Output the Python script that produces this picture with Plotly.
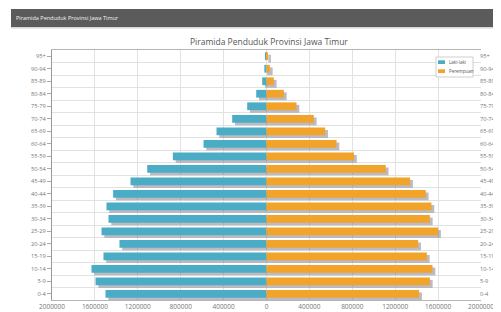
import plotly.graph_objects as go

# ---- data ----
age_groups = ["0-4", "5-9", "10-14", "15-19", "20-24", "25-29", "30-34", "35-39",
              "40-44", "45-49", "50-54", "55-59", "60-64", "65-69", "70-74",
              "75-79", "80-84", "85-89", "90-94", "95+"]
male = [1501000, 1594000, 1632000, 1520000, 1371000, 1538000, 1473000, 1492000,
        1430000, 1268000, 1112000, 873000, 587000, 466000, 320000,
        180000, 96000, 40000, 20000, 8000]
female = [1423000, 1523000, 1548000, 1495000, 1414000, 1600000, 1523000, 1538000,
          1485000, 1339000, 1112000, 816000, 653000, 547000, 441000,
          280000, 162000, 68000, 31000, 15000]
series_names = ["Laki-laki", "Perempuan"]
x_ticks = [-2000000, -1600000, -1200000, -800000, -400000, 0,
           400000, 800000, 1200000, 1600000, 2000000]
title_text = "Piramida Penduduk Provinsi Jawa Timur"

# ---- style ----
OFF = 8                      # page body margin the figure sits inside
W, H = 501 - OFF, 312 - OFF
ML, MR, MT, MB = 52 - OFF, 20, 50 - OFF, 12
PW, PH = W - ML - MR, H - MT - MB
TEAL = "#4BACC6"
ORANGE = "#F2A32A"
SHADOW = "rgba(95,90,110,0.42)"
BAR_W = 0.62
SH_DY = 0.2
SH_DX = 26000
FONT = "Open Sans"


def xp(px):  # page pixel -> paper
    return (px - OFF - ML) / PW


def yp(py):
    return (H - MB - (py - OFF)) / PH


idx = list(range(len(age_groups)))

fig = go.Figure()
# shadows
fig.add_trace(go.Bar(y=[i - SH_DY for i in idx], x=[-v for v in male], base=SH_DX,
                     orientation="h", width=BAR_W, marker=dict(color=SHADOW, line_width=0),
                     showlegend=False, hoverinfo="skip"))
fig.add_trace(go.Bar(y=[i - SH_DY for i in idx], x=female, base=SH_DX,
                     orientation="h", width=BAR_W, marker=dict(color=SHADOW, line_width=0),
                     showlegend=False, hoverinfo="skip"))
# bars
fig.add_trace(go.Bar(y=idx, x=[-v for v in male], orientation="h", width=BAR_W,
                     name=series_names[0], marker=dict(color=TEAL, line_width=0),
                     showlegend=False))
fig.add_trace(go.Bar(y=idx, x=female, orientation="h", width=BAR_W,
                     name=series_names[1], marker=dict(color=ORANGE, line_width=0),
                     showlegend=False))
# invisible trace to carry the right-hand axis
fig.add_trace(go.Scatter(y=idx, x=female, yaxis="y2", mode="markers",
                         marker=dict(opacity=0), showlegend=False, hoverinfo="skip"))

axis_common = dict(
    range=[-0.5, len(age_groups) - 0.5],
    tickmode="array", tickvals=idx, ticktext=age_groups,
    tickfont=dict(family=FONT, size=5.7, color="#777"),
    showgrid=False, zeroline=False, automargin=False,
)

fig.update_layout(
    width=W, height=H,
    margin=dict(l=ML, r=MR, t=MT, b=MB, autoexpand=False),
    paper_bgcolor="white", plot_bgcolor="white",
    barmode="overlay",
    showlegend=False,
    xaxis=dict(range=[x_ticks[0], x_ticks[-1]], tickmode="array", tickvals=x_ticks,
               ticktext=[str(abs(v)) for v in x_ticks],
               tickfont=dict(family=FONT, size=6.5, color="#777"),
               showgrid=True, gridcolor="#e2e2e2", gridwidth=1, zeroline=False,
               showline=True, linecolor="#b5b5b5", mirror=True, ticks="",
               automargin=False),
    yaxis=dict(**axis_common, ticks="outside", ticklen=4, tickcolor="#aaa",
               showline=True, linecolor="#999", linewidth=1,
               minor=dict(tick0=0.5, dtick=1, showgrid=True, gridcolor="#e2e2e2",
                          ticks="")),
    yaxis2=dict(**axis_common, overlaying="y", side="right", ticks="",
                showline=False, ticklabelstandoff=-2),
)

shapes = [
    # header band
    dict(type="rect", xref="paper", yref="paper", x0=xp(11), x1=xp(503),
         y0=yp(27), y1=yp(9), fillcolor="#5b5b5b", line_width=0, layer="above"),
    dict(type="rect", xref="paper", yref="paper", x0=xp(11), x1=xp(503),
         y0=yp(28.5), y1=yp(27), fillcolor="#d6d6d6", line_width=0, layer="above"),
    # legend box
    dict(type="rect", xref="paper", yref="paper", x0=xp(436), x1=xp(473),
         y0=yp(77), y1=yp(57), fillcolor="white", line=dict(color="#cfcfcf", width=1),
         layer="above"),
    dict(type="rect", xref="paper", yref="paper", x0=xp(438), x1=xp(445),
         y0=yp(64), y1=yp(60.3), fillcolor=TEAL, line_width=0, layer="above"),
    dict(type="rect", xref="paper", yref="paper", x0=xp(438), x1=xp(445),
         y0=yp(73), y1=yp(69.3), fillcolor=ORANGE, line_width=0, layer="above"),
]
fig.update_layout(shapes=shapes)

annotations = [
    dict(text=title_text, xref="paper", yref="paper", x=xp(14), y=yp(18),
         xanchor="left", yanchor="middle", showarrow=False,
         font=dict(family=FONT, size=5.5, color="#f2f2f2")),
    dict(text=title_text, xref="paper", yref="paper", x=xp(269), y=yp(42),
         xanchor="center", yanchor="middle", showarrow=False,
         font=dict(family=FONT, size=8.5, color="#555")),
    dict(text=series_names[0], xref="paper", yref="paper", x=xp(446.5), y=yp(62.2),
         xanchor="left", yanchor="middle", showarrow=False,
         font=dict(family=FONT, size=4.5, color="#555")),
    dict(text=series_names[1], xref="paper", yref="paper", x=xp(446.5), y=yp(71.2),
         xanchor="left", yanchor="middle", showarrow=False,
         font=dict(family=FONT, size=4.5, color="#555")),
]
fig.update_layout(annotations=annotations)

fig.write_html("out.html")
